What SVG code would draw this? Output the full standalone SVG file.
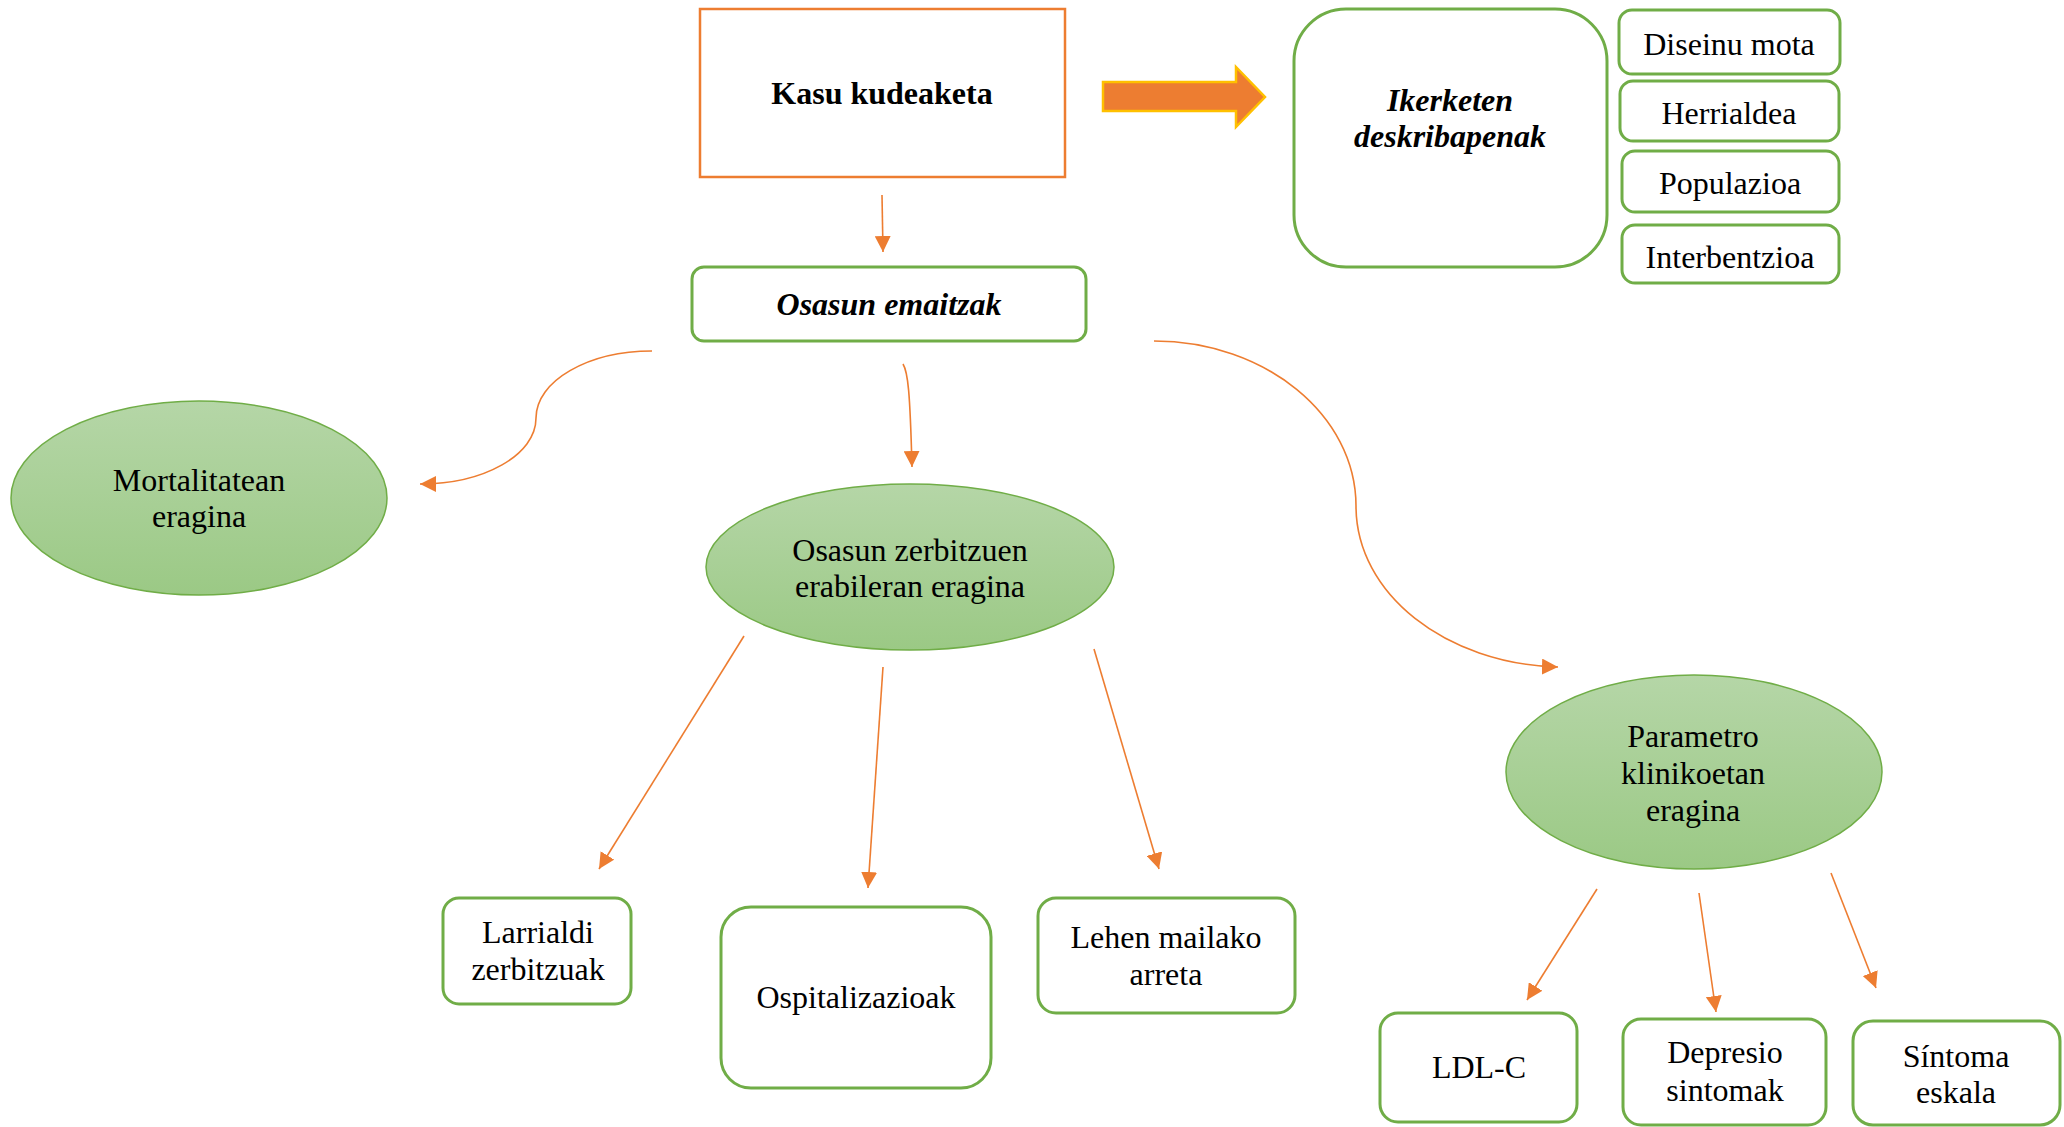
<svg xmlns="http://www.w3.org/2000/svg" width="2064" height="1127" viewBox="0 0 2064 1127">
  <defs>
    <linearGradient id="gfill" x1="0" y1="0" x2="0" y2="1">
      <stop offset="0" stop-color="#B5D6A7"/>
      <stop offset="1" stop-color="#9BC985"/>
    </linearGradient>
    <marker id="ah" markerUnits="userSpaceOnUse" markerWidth="16" markerHeight="16" viewBox="0 0 16 16" refX="16" refY="8" orient="auto">
      <path d="M0,0 L16,8 L0,16 z" fill="#ED7D31"/>
    </marker>
    <style>
      .box { fill: #FFFFFF; stroke: #70AD47; stroke-width: 3; }
      .ell { fill: url(#gfill); stroke: #70AD47; stroke-width: 1.5; }
      .t { font-family: "Liberation Serif", "Times New Roman", serif; font-size: 32px; fill: #000000; text-anchor: middle; }
      .b { font-weight: bold; }
      .bi { font-weight: bold; font-style: italic; }
      .c { fill: none; stroke: #ED7D31; stroke-width: 1.6; marker-end: url(#ah); }
    </style>
  </defs>
  <rect width="2064" height="1127" fill="#FFFFFF"/>

  <g id="connectors">
    <line class="c" x1="882" y1="195" x2="883" y2="252"/>
    <path class="c" d="M903,364 C908,372 910,392 912,467"/>
    <path class="c" d="M652,351 C588,351 536,381 536,418 C536,455 484,484 420,484"/>
    <path class="c" d="M1154,341 C1265,341 1356,415 1356,506 C1356,594 1446,664 1558,667"/>
    <line class="c" x1="744" y1="636" x2="599" y2="869"/>
    <line class="c" x1="883" y1="667" x2="868" y2="888"/>
    <line class="c" x1="1094" y1="649" x2="1159" y2="869"/>
    <line class="c" x1="1597" y1="889" x2="1527" y2="1000"/>
    <line class="c" x1="1699" y1="893" x2="1716" y2="1012"/>
    <line class="c" x1="1831" y1="873" x2="1876" y2="988"/>
  </g>

  <g id="block-arrow">
    <polygon points="1103,82 1236,82 1236,67 1265,97 1236,127 1236,111 1103,111" fill="#ED7D31" stroke="#FFC000" stroke-width="2.5"/>
  </g>

  <g id="kasu">
    <rect x="700" y="9" width="365" height="168" fill="#FFFFFF" stroke="#ED7D31" stroke-width="2.5"/>
    <text class="t b" x="882" y="104">Kasu kudeaketa</text>
  </g>

  <g id="osasun-emaitzak">
    <rect class="box" x="692" y="267" width="394" height="74" rx="12"/>
    <text class="t bi" x="889" y="315">Osasun emaitzak</text>
  </g>

  <g id="ikerketen">
    <rect class="box" x="1294" y="9" width="313" height="258" rx="52"/>
    <text class="t bi" x="1450" y="111">Ikerketen</text>
    <text class="t bi" x="1450" y="147">deskribapenak</text>
  </g>

  <g id="diseinu">
    <rect class="box" x="1619" y="10" width="221" height="64" rx="13"/>
    <text class="t" x="1729" y="55">Diseinu mota</text>
  </g>
  <g id="herrialdea">
    <rect class="box" x="1620" y="81" width="219" height="60" rx="13"/>
    <text class="t" x="1729" y="124">Herrialdea</text>
  </g>
  <g id="populazioa">
    <rect class="box" x="1622" y="151" width="217" height="61" rx="13"/>
    <text class="t" x="1730" y="194">Populazioa</text>
  </g>
  <g id="interbentzioa">
    <rect class="box" x="1622" y="225" width="217" height="58" rx="13"/>
    <text class="t" x="1730" y="268">Interbentzioa</text>
  </g>

  <g id="mortalitatean">
    <ellipse class="ell" cx="199" cy="498" rx="188" ry="97"/>
    <text class="t" x="199" y="491">Mortalitatean</text>
    <text class="t" x="199" y="527">eragina</text>
  </g>

  <g id="zerbitzuen">
    <ellipse class="ell" cx="910" cy="567" rx="204" ry="83"/>
    <text class="t" x="910" y="561">Osasun zerbitzuen</text>
    <text class="t" x="910" y="597">erabileran eragina</text>
  </g>

  <g id="parametro">
    <ellipse class="ell" cx="1694" cy="772" rx="188" ry="97"/>
    <text class="t" x="1693" y="747">Parametro</text>
    <text class="t" x="1693" y="784">klinikoetan</text>
    <text class="t" x="1693" y="821">eragina</text>
  </g>

  <g id="larrialdi">
    <rect class="box" x="443" y="898" width="188" height="106" rx="16"/>
    <text class="t" x="538" y="943">Larrialdi</text>
    <text class="t" x="538" y="980">zerbitzuak</text>
  </g>

  <g id="ospitalizazioak">
    <rect class="box" x="721" y="907" width="270" height="181" rx="30"/>
    <text class="t" x="856" y="1008">Ospitalizazioak</text>
  </g>

  <g id="lehen">
    <rect class="box" x="1038" y="898" width="257" height="115" rx="18"/>
    <text class="t" x="1166" y="948">Lehen mailako</text>
    <text class="t" x="1166" y="985">arreta</text>
  </g>

  <g id="ldl">
    <rect class="box" x="1380" y="1013" width="197" height="109" rx="18"/>
    <text class="t" x="1479" y="1078">LDL-C</text>
  </g>

  <g id="depresio">
    <rect class="box" x="1623" y="1019" width="203" height="106" rx="18"/>
    <text class="t" x="1725" y="1063">Depresio</text>
    <text class="t" x="1725" y="1101">sintomak</text>
  </g>

  <g id="sintoma">
    <rect class="box" x="1853" y="1021" width="207" height="104" rx="20"/>
    <text class="t" x="1956" y="1067">Síntoma</text>
    <text class="t" x="1956" y="1103">eskala</text>
  </g>
</svg>
